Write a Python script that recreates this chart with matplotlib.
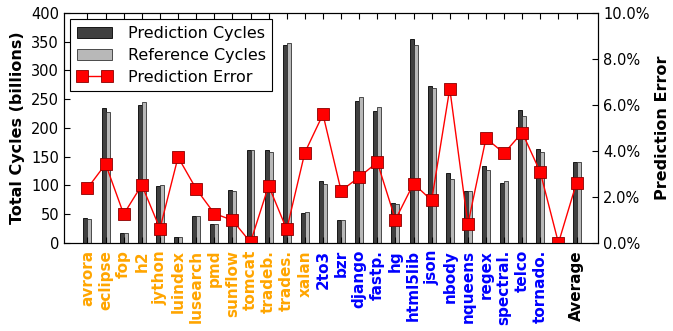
import matplotlib.pyplot as plt
import numpy as np

# benchmark names (java = orange, python = blue), blank slot, then average
java_names = ['avrora', 'eclipse', 'fop', 'h2', 'jython', 'luindex', 'lusearch',
              'pmd', 'sunflow', 'tomcat', 'tradeb.', 'trades.', 'xalan']
python_names = ['2to3', 'bzr', 'django', 'fastp.', 'hg', 'html5lib', 'json',
                'nbody', 'nqueens', 'regex', 'spectral.', 'telco', 'tornado.']
labels = java_names + python_names + ['', 'Average']
label_colors = ['orange'] * len(java_names) + ['blue'] * len(python_names) + ['black', 'black']

# cycles in billions
pred_cycles = [43, 234, 17, 240, 99, 11, 47, 33, 92, 162, 162, 345, 52,
               108, 40, 247, 230, 70, 354, 273, 121, 90, 133, 104, 231, 163,
               0, 141]
ref_cycles = [41, 227, 17, 245, 100, 11, 47, 33, 90, 162, 158, 347, 54,
              102, 40, 254, 237, 68, 344, 269, 112, 90, 127, 107, 220, 158,
              0, 140]
# prediction error in percent
pred_error = [2.38, 3.43, 1.25, 2.52, 0.62, 3.73, 2.35, 1.28, 0.99, 0.03, 2.49, 0.59, 3.93,
              5.59, 2.27, 2.86, 3.51, 1.01, 2.58, 1.85, 6.71, 0.81, 4.55, 3.9, 4.8, 3.07,
              0.0, 2.62]

x = np.arange(len(labels))
w = 0.22

fig = plt.figure(figsize=(6.73, 3.31), dpi=100)
ax = fig.add_axes([0.095, 0.266, 0.794, 0.695])
ax2 = ax.twinx()

b1 = ax.bar(x - w, pred_cycles, w, align='edge', color='#404040', edgecolor='black', linewidth=0.6)
b2 = ax.bar(x, ref_cycles, w, align='edge', color='#b8b8b8', edgecolor='#333333', linewidth=0.6)
l1, = ax2.plot(x, pred_error, color='red', lw=1, marker='s', ms=8.5,
               markerfacecolor='red', markeredgecolor='#8b0000', markeredgewidth=0.6)

ax.set_xlim(-1.3, 28.2)
ax.set_ylim(0, 400)
ax2.set_ylim(0, 10)
ax.set_yticks(range(0, 401, 50))
ax2.set_yticks(range(0, 11, 2))
ax2.set_yticklabels(['%.1f%%' % v for v in range(0, 11, 2)])

ax.set_xticks(x)
ax.set_xticklabels(labels, rotation=90, fontweight='bold', fontsize=11)
for t, c in zip(ax.get_xticklabels(), label_colors):
    t.set_color(c)

ax.tick_params(axis='x', direction='in', top=True, length=4, pad=5)
ax.tick_params(axis='y', direction='in', length=4, labelsize=10.5)
ax2.tick_params(axis='y', direction='in', length=4, labelsize=10.5)

ax.set_ylabel('Total Cycles (billions)', fontweight='bold', fontsize=11.5)
ax2.set_ylabel('Prediction Error', fontweight='bold', fontsize=11.5, labelpad=4)

leg = ax2.legend([b1, b2, l1], ['Prediction Cycles', 'Reference Cycles', 'Prediction Error'],
                 loc='upper left', fontsize=11.5, numpoints=2, fancybox=False,
                 framealpha=1, edgecolor='black', handlelength=2.2, handletextpad=1.0,
                 borderaxespad=0.4, labelspacing=0.45)
leg.get_frame().set_linewidth(0.8)

fig.savefig('out.png', dpi=100)
